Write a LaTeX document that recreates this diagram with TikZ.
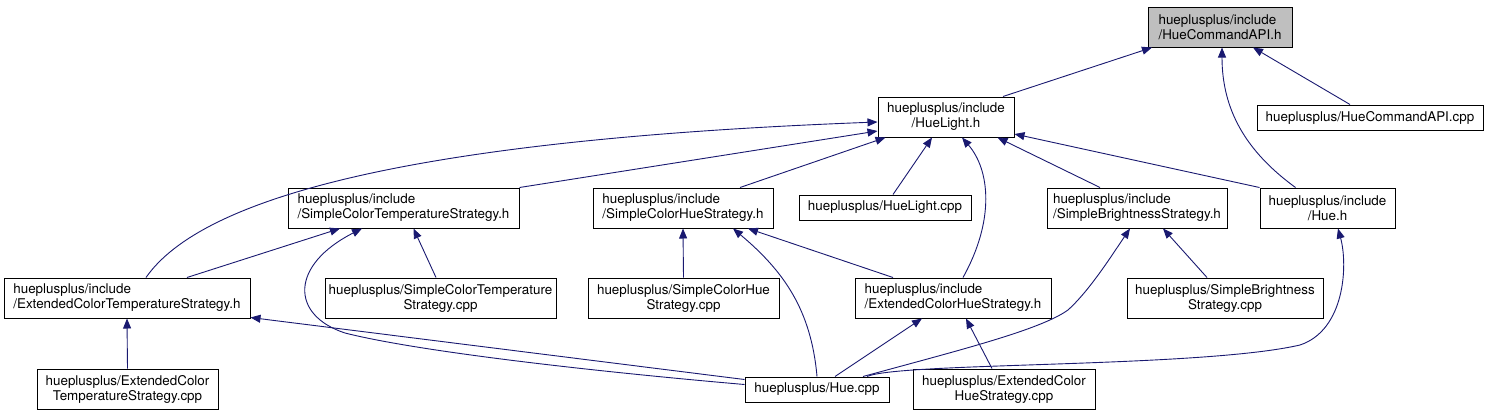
\documentclass[tikz,border=0pt]{standalone}
\usepackage{fontspec}
\setmainfont{TeX Gyre Heros}
\usetikzlibrary{arrows.meta}
\definecolor{edgeblue}{HTML}{191970}
\definecolor{rootgray}{HTML}{BFBFBF}

\begin{document}
\begin{tikzpicture}[x=1pt,y=-1pt,
    box/.style={draw=black, line width=1pt, inner sep=0pt, minimum height=40pt,
      font=\fontsize{13.4}{15}\selectfont},
    hfile/.style={box, align=left},
    cfile/.style={box, align=center},
    one/.style={box, minimum height=25pt},
    edge/.style={draw=edgeblue, line width=0.9pt, -{Triangle[length=10pt,width=8pt]}}]
	\useasboundingbox (0,0) rectangle (1489,416);

	% fejlecek
	\node[hfile, fill=rootgray, minimum width=144pt] (root) at (1220,27) {hueplusplus/include\\/HueCommandAPI.h};
	\node[one, minimum width=226pt] (apicpp) at (1370,117.5) {hueplusplus/HueCommandAPI.cpp};
	\node[cfile, minimum width=136pt] (light) at (946,117) {hueplusplus/include\\/HueLight.h};

	\node[hfile, minimum width=231pt] (sctemp) at (403.5,208) {hueplusplus/include\\/SimpleColorTemperatureStrategy.h};
	\node[hfile, minimum width=180pt] (schue) at (683,208) {hueplusplus/include\\/SimpleColorHueStrategy.h};
	\node[one, minimum width=172pt] (lightcpp) at (885,207.5) {hueplusplus/HueLight.cpp};
	\node[hfile, minimum width=180pt] (sbright) at (1137,208) {hueplusplus/include\\/SimpleBrightnessStrategy.h};
	\node[cfile, minimum width=135pt] (hueh) at (1327.5,208) {hueplusplus/include\\/Hue.h};

	\node[hfile, minimum width=246pt] (ectemp) at (127,298) {hueplusplus/include\\/ExtendedColorTemperatureStrategy.h};
	\node[cfile, minimum width=231pt] (sctempcpp) at (440.5,298) {hueplusplus/SimpleColorTemperature\\Strategy.cpp};
	\node[cfile, minimum width=191pt] (schuecpp) at (683.5,298) {hueplusplus/SimpleColorHue\\Strategy.cpp};
	\node[hfile, minimum width=196pt] (echue) at (953,298) {hueplusplus/include\\/ExtendedColorHueStrategy.h};
	\node[cfile, minimum width=196pt] (sbrightcpp) at (1225,298) {hueplusplus/SimpleBrightness\\Strategy.cpp};

	\node[cfile, minimum width=181pt] (ectempcpp) at (127.5,389) {hueplusplus/ExtendedColor\\TemperatureStrategy.cpp};
	\node[one, minimum width=144pt] (huecpp) at (817,389.5) {hueplusplus/Hue.cpp};
	\node[cfile, minimum width=182pt] (echuecpp) at (1004,389) {hueplusplus/ExtendedColor\\HueStrategy.cpp};

	% HueCommandAPI.h
	\draw[edge] ([xshift=57pt]light.north) -- ([xshift=-68pt]root.south);
	\draw[edge] ([xshift=-20pt]apicpp.north) -- ([xshift=33pt]root.south);
	\draw[edge] ([xshift=-32pt]hueh.north) to[out=144,in=-90] ([xshift=2pt]root.south);

	% HueLight.h
	\draw[edge] ([xshift=19pt]ectemp.north) .. controls (200,200) and (400,140) .. ([yshift=-5pt]light.west);
	\draw[edge] (sctemp.north east) -- ([yshift=-14pt]light.west);
	\draw[edge] ([xshift=57pt]schue.north) -- ([xshift=8pt]light.south west);
	\draw[edge] ([xshift=8pt]lightcpp.north) -- ([xshift=-14pt]light.south);
	\draw[edge] ([xshift=10pt]echue.north) .. controls (995,220) and (990,170) .. ([xshift=16pt]light.south);
	\draw[edge] ([xshift=-37pt]sbright.north) -- ([xshift=-17pt]light.south east);
	\draw[edge] (hueh.north west) -- ([yshift=-17pt]light.east);

	% SimpleColorTemperatureStrategy.h
	\draw[edge] ([xshift=60pt]ectemp.north) -- ([xshift=-63.5pt]sctemp.south);
	\draw[edge] ([yshift=-8pt]huecpp.north west) .. controls (600,372) and (420,352) .. (345,333)
		.. controls (290,315) and (290,265) .. ([xshift=-41.5pt]sctemp.south);
	\draw[edge] ([xshift=-4.5pt]sctempcpp.north) -- ([xshift=10pt]sctemp.south);

	% SimpleColorHueStrategy.h
	\draw[edge] (schuecpp.north) -- (schue.south);
	\draw[edge] (huecpp.north) to[out=95,in=-40] ([xshift=50pt]schue.south);
	\draw[edge] ([xshift=-60pt]echue.north) -- ([xshift=65pt]schue.south);

	% ExtendedColorTemperatureStrategy.h
	\draw[edge] (ectempcpp.north) -- (ectemp.south);
	\draw[edge] ([yshift=-3pt]huecpp.north west) -- ([yshift=1pt]ectemp.south east);

	% ExtendedColorHueStrategy.h
	\draw[edge] ([xshift=18pt]huecpp.north) -- ([xshift=-31pt]echue.south);
	\draw[edge] ([xshift=-12pt]echuecpp.north) -- ([xshift=13pt]echue.south);

	% SimpleBrightnessStrategy.h
	\draw[edge] ([xshift=46pt]huecpp.north) .. controls (960,350) and (1040,330) .. (1068,310)
		.. controls (1090,290) and (1112,255) .. ([xshift=-7pt]sbright.south);
	\draw[edge] ([xshift=-18pt]sbrightcpp.north) -- ([xshift=26pt]sbright.south);

	% Hue.h
	\draw[edge] ([xshift=50pt]huecpp.north) .. controls (900,362) and (1200,368) .. (1300,345)
		.. controls (1345,330) and (1348,265) .. ([xshift=10.5pt]hueh.south);

\end{tikzpicture}
\end{document}
